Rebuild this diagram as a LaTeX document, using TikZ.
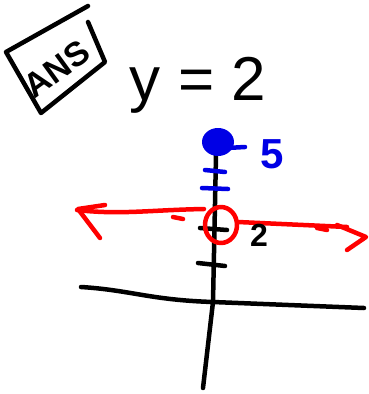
\documentclass[tikz,border=0pt]{standalone}
\usepackage{fontspec}
\setmainfont{Liberation Sans}
\begin{document}
\begin{tikzpicture}[x=1pt, y=-1pt, line cap=round, line join=round]
  \tikzset{
    pen/.style={line width=4.5pt},
    bluepen/.style={line width=4.5pt, blue!90!black},
    redpen/.style={line width=4.5pt, red},
  }
  \useasboundingbox (0,0) rectangle (368,394);
  % answer tag
  \draw[pen] (88,6) -- (6,52) -- (41,113) -- (105,62) -- (88,22);
  \node[rotate=36, inner sep=0pt, font=\bfseries\fontsize{34}{36}\selectfont] (ans) at (57,69) {ANS};
  \node[anchor=base, font=\fontsize{62}{64}\selectfont] (eqn) at (198,100) {y = 2};
  % axes
  \draw[pen] (216,155) -- (213,302) -- (203,388);
  \draw[pen] (81,287) .. controls (130,290) and (150,300) .. (213,302) -- (364,308);
  \draw[pen] (200,228) -- (227,230);
  \draw[pen] (198,263) -- (225,266);
  % blue marks
  \fill[blue!90!black] (218,142) ellipse (16 and 14);
  \draw[bluepen] (227,148) -- (245,147);
  \draw[bluepen] (205,170) -- (225,172);
  \draw[bluepen] (202,188) -- (228,189);
  \node[anchor=base, text=blue!90!black, font=\bfseries\fontsize{42}{44}\selectfont] (five) at (272,168) {5};
  % red line
  \draw[redpen] (221,225) ellipse (16 and 18);
  \draw[redpen] (204,209) .. controls (150,210) and (120,215) .. (77,210);
  \draw[redpen] (105,205) -- (78,209) -- (100,238);
  \draw[redpen] (173,217) -- (183,219);
  \draw[redpen] (238,222) -- (347,227);
  \draw[redpen] (337,225) -- (366,237) -- (347,250);
  \draw[redpen] (317,228) -- (327,230);
  \node[anchor=base, font=\bfseries\fontsize{32}{34}\selectfont] (two) at (259,246) {2};
\end{tikzpicture}
\end{document}
